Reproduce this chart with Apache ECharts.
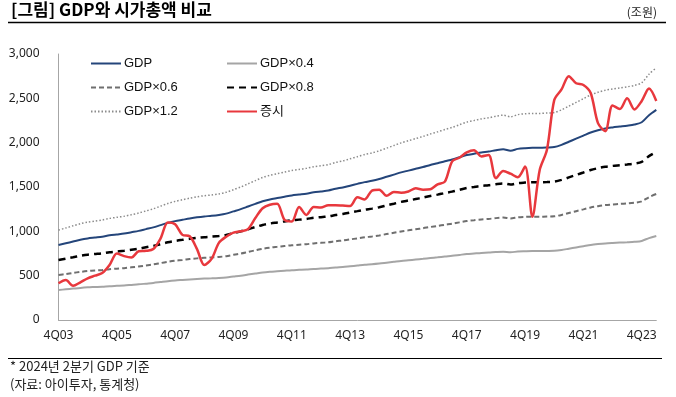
<!DOCTYPE html>
<html>
<head>
<meta charset="utf-8">
<script src="https://cdn.jsdelivr.net/npm/echarts@6/dist/echarts.min.js"></script>
<style>
html,body{margin:0;padding:0;background:#fff;}
#c{width:676px;height:397px;}
</style>
</head>
<body>
<div id="c"></div>
<script>
// Quarters 4Q03 .. 2Q24
const categories = (function(){
  const out = ['4Q03'];
  for (let y = 4; y <= 24; y++) {
    for (let q = 1; q <= 4; q++) {
      if (y === 24 && q > 2) break;
      out.push(q + 'Q' + String(y).padStart(2, '0'));
    }
  }
  return out;
})();

const gdp = [845,865,885,905,920,930,940,955,965,975,
  990,1005,1025,1045,1070,1095,1115,1130,1145,1158,
  1168,1175,1185,1200,1225,1250,1280,1310,1340,1360,
  1375,1390,1405,1415,1425,1440,1450,1460,1480,1495,
  1515,1535,1555,1570,1590,1615,1640,1665,1685,1705,
  1725,1748,1768,1790,1810,1835,1860,1875,1890,1900,
  1915,1925,1910,1930,1938,1942,1942,1945,1950,1975,
  2010,2045,2080,2115,2140,2160,2172,2182,2192,2205,
  2230,2310,2370];

const gdp04 = [338,346,354,362,368,372,376,382,386,390,
  396,402,410,418,428,438,446,452,458,463,
  467,470,474,480,490,500,512,524,536,544,
  550,556,562,566,570,576,580,584,592,598,
  606,614,622,628,636,646,656,666,674,682,
  690,699,707,716,724,734,744,750,756,760,
  766,770,764,772,775,777,777,778,780,790,
  804,818,832,846,856,864,869,873,877,882,
  892,924,948];

const gdp06 = [507,519,531,543,552,558,564,573,579,585,
  594,603,615,627,642,657,669,678,687,695,
  701,705,711,720,735,750,768,786,804,816,
  825,834,843,849,855,864,870,876,888,897,
  909,921,933,942,954,969,984,999,1011,1023,
  1035,1049,1061,1074,1086,1101,1116,1125,1134,1140,
  1149,1155,1146,1158,1163,1165,1165,1167,1170,1185,
  1206,1227,1248,1269,1284,1296,1303,1309,1315,1323,
  1338,1386,1422];

const gdp08 = [676,692,708,724,736,744,752,764,772,780,
  792,804,820,836,856,876,892,904,916,926,
  934,940,948,960,980,1000,1024,1048,1072,1088,
  1100,1112,1124,1132,1140,1152,1160,1168,1184,1196,
  1212,1228,1244,1256,1272,1292,1312,1332,1348,1364,
  1380,1398,1414,1432,1448,1468,1488,1500,1512,1520,
  1532,1540,1528,1544,1550,1554,1554,1556,1560,1580,
  1608,1636,1664,1692,1712,1728,1738,1746,1754,1764,
  1784,1848,1896];

const gdp12 = [1014,1038,1062,1086,1104,1116,1128,1146,1158,1170,
  1188,1206,1230,1254,1284,1314,1338,1356,1374,1390,
  1402,1410,1422,1440,1470,1500,1536,1572,1608,1632,
  1650,1668,1686,1698,1710,1728,1740,1752,1776,1794,
  1818,1842,1866,1884,1908,1938,1968,1998,2022,2046,
  2070,2098,2122,2148,2172,2202,2232,2250,2268,2280,
  2298,2310,2292,2316,2326,2330,2330,2334,2340,2370,
  2412,2454,2496,2538,2568,2592,2606,2618,2630,2646,
  2676,2772,2844];

const market = [414,450,385,425,470,500,530,620,750,720,
  705,775,780,800,920,1100,1080,960,945,800,
  620,690,870,940,985,1000,1025,1150,1260,1300,
  1310,1130,1110,1275,1185,1275,1270,1295,1295,1290,
  1285,1385,1360,1460,1470,1400,1445,1435,1450,1485,
  1470,1475,1530,1560,1790,1830,1890,1915,1845,1860,
  1600,1680,1650,1610,1730,1165,1690,1920,2480,2600,
  2750,2670,2650,2560,2220,2130,2420,2380,2500,2375,
  2470,2610,2470];

const yTicks = [0, 500, 1000, 1500, 2000, 2500, 3000];

const FONT = "'Noto Sans', 'Noto Sans CJK KR', sans-serif";
const LFONT = "'Liberation Sans', Arial, 'Noto Sans CJK KR', sans-serif";

const chart = echarts.init(document.getElementById('c'), null, {renderer: 'canvas'});

function mk(name, data, color, width, type, z) {
  return {
    name: name, type: 'line', data: data, symbol: 'none', smooth: 0.3,
    lineStyle: {color: color, width: width, type: type, cap: 'butt'},
    itemStyle: {color: color},
    z: z, animation: false
  };
}

const legendBase = {
  orient: 'vertical', top: 52,
  itemWidth: 30, itemHeight: 14, itemGap: 11, selectedMode: false,
  itemStyle: {opacity: 0, borderWidth: 0},
  textStyle: {fontSize: 13, color: '#111', fontFamily: LFONT, padding: [0,0,0,-2]}
};

const option = {
  animation: false,
  backgroundColor: '#fff',
  grid: {left: 58.5, right: 19.7, top: 54, bottom: 77, containLabel: false},
  xAxis: {
    type: 'category', data: categories, boundaryGap: false,
    axisLine: {lineStyle: {color: '#a6a6a6', width: 1}},
    axisTick: {show: false},
    axisLabel: {interval: 7, margin: 10, color: '#222', fontSize: 12, fontFamily: FONT}
  },
  yAxis: {
    type: 'value', min: yTicks[0], max: yTicks[yTicks.length - 1], interval: 500,
    axisLine: {show: true, lineStyle: {color: '#a6a6a6', width: 1}},
    axisTick: {show: false},
    splitLine: {show: false},
    axisLabel: {margin: 19, color: '#222', fontSize: 12, fontFamily: FONT,
      formatter: v => v.toLocaleString('en-US')}
  },
  legend: [
    Object.assign({data: ['GDP', 'GDP×0.6', 'GDP×1.2'], left: 85}, legendBase),
    Object.assign({data: ['GDP×0.4', 'GDP×0.8', '증시'], left: 221}, legendBase)
  ],
  series: [
    mk('GDP×1.2', gdp12, '#8c8c8c', 1.5, [1.5, 2], 2),
    mk('GDP×0.4', gdp04, '#a5a5a5', 2, 'solid', 2),
    mk('GDP×0.6', gdp06, '#6f6f6f', 2, [5, 3], 3),
    mk('GDP×0.8', gdp08, '#000000', 2.5, [7, 5], 4),
    mk('GDP', gdp, '#24457a', 2, 'solid', 5),
    mk('증시', market, '#e8383d', 2.5, 'solid', 6)
  ],
  graphic: [
    {type: 'text', left: 11, top: 1, style: {text: '[그림] GDP와 시가총액 비교', fill: '#000',
      font: "bold 17px 'Noto Sans CJK KR', sans-serif"}},
    {type: 'text', right: 19, top: 6, style: {text: '(조원)', fill: '#222',
      font: "12px 'Noto Sans CJK KR', sans-serif"}},
    {type: 'line', shape: {x1: 8, y1: 22.5, x2: 666, y2: 22.5}, style: {stroke: '#000', lineWidth: 1.5}},
    {type: 'line', shape: {x1: 8, y1: 358.5, x2: 662, y2: 358.5}, style: {stroke: '#000', lineWidth: 1}},
    {type: 'text', left: 10, top: 360, style: {text: '* 2024년 2분기 GDP 기준', fill: '#222',
      font: "13px 'Noto Sans CJK KR', sans-serif"}},
    {type: 'text', left: 10, top: 378, style: {text: '(자료: 아이투자, 통계청)', fill: '#222',
      font: "13px 'Noto Sans CJK KR', sans-serif"}}
  ]
};
chart.setOption(option);
</script>
</body>
</html>
